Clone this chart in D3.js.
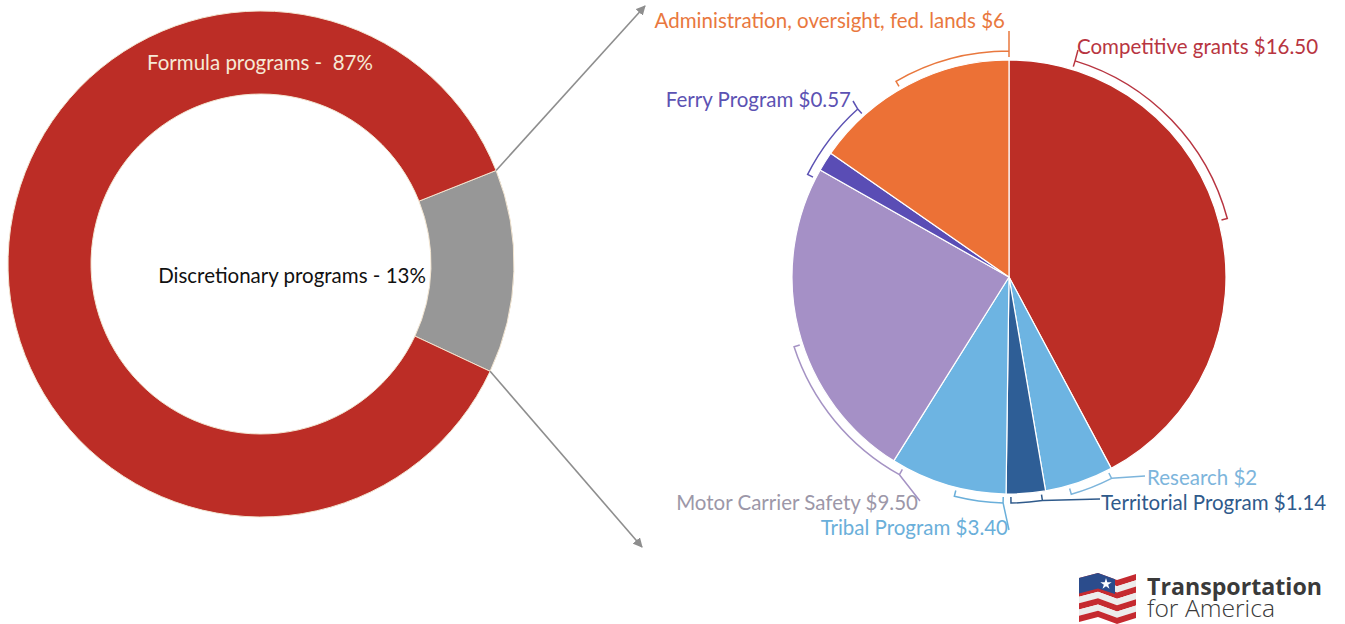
<!DOCTYPE html>
<html>
<head>
<meta charset="utf-8">
<script src="https://cdn.jsdelivr.net/npm/d3@7"></script>
<style>
    body { margin: 0; background: #fff; }
    svg { display: block; font-family: Lato, "Open Sans", sans-serif; }
</style>
</head>
<body>
<svg id="chart" width="1345" height="624"></svg>
<script>
// overall split of the program money
const overviewNames = ["Discretionary programs", "Formula programs"];
const overviewShares = [13, 87];

// breakdown of the discretionary part, clockwise from 12 o'clock
const programNames = ["Competitive grants", "Research", "Territorial Program", "Tribal Program",
    "Motor Carrier Safety", "Ferry Program", "Administration, oversight, fed. lands"];
const programAmounts = [16.50, 2, 1.14, 3.40, 9.50, 0.57, 6];
const programAmountLabels = ["$16.50", "$2", "$1.14", "$3.40", "$9.50", "$0.57", "$6"];

const overviewColors = { "Discretionary programs": "#979797", "Formula programs": "#BC2D26" };
const sliceColors = {
    "Competitive grants": "#BC2E26",
    "Research": "#6DB4E2",
    "Territorial Program": "#2E5E96",
    "Tribal Program": "#6DB4E2",
    "Motor Carrier Safety": "#A590C6",
    "Ferry Program": "#5A4DB5",
    "Administration, oversight, fed. lands": "#EC7136"
};
const labelColors = {
    "Competitive grants": "#B83541",
    "Research": "#7DB5DC",
    "Territorial Program": "#2F5A8B",
    "Tribal Program": "#6AAFDA",
    "Motor Carrier Safety": "#9C97A8",
    "Ferry Program": "#5C52B3",
    "Administration, oversight, fed. lands": "#E9783E"
};

// bracket spans (degrees) and where each callout text sits
const labelLayout = {
    "Competitive grants": { arc: [17, 75], from: 0, to: [1078, 50], x: 1077, y: 54, anchor: "start" },
    "Research": { arc: [153, 164], from: 0, to: [1145, 476], x: 1147, y: 485, anchor: "start" },
    "Territorial Program": { arc: [171.5, 179.5], from: 0, to: [1100, 499], x: 1101, y: 510, anchor: "start" },
    "Tribal Program": { arc: [181.5, 194], from: 0, to: [1009, 530], x: 1008, y: 535, anchor: "end" },
    "Motor Carrier Safety": { arc: [209, 252], from: 0, to: [920, 501], x: 918, y: 510, anchor: "end" },
    "Ferry Program": { arc: [297, 318], from: 1, to: [853, 101], x: 851, y: 107, anchor: "end" },
    "Administration, oversight, fed. lands": { arc: [330, 360], from: 1, to: [1009, 31], x: 1005, y: 28, anchor: "end" }
};

const svg = d3.select("#chart");
const rad = deg => deg * Math.PI / 180;
const labelSize = "20.5px";

// ---------- left donut ----------
const donut = { cx: 261, cy: 264, inner: 170, outer: 253, start: rad(68.3) };

const donutSlices = d3.pie()
    .sort(null)
    .startAngle(donut.start)
    .endAngle(donut.start + 2 * Math.PI)
    (overviewShares);

const donutArc = d3.arc().innerRadius(donut.inner).outerRadius(donut.outer);

const gDonut = svg.append("g").attr("transform", `translate(${donut.cx},${donut.cy})`);
gDonut.selectAll("path")
    .data(donutSlices)
    .join("path")
    .attr("d", donutArc)
    .attr("fill", (d, i) => overviewColors[overviewNames[i]])
    .attr("stroke", "#F3E6D2")
    .attr("stroke-width", 1);

svg.append("text")
    .attr("x", 260).attr("y", 70)
    .attr("text-anchor", "middle")
    .attr("fill", "#F6E9D6")
    .style("font-size", labelSize)
    .style("white-space", "pre")
    .text(overviewNames[1].replace(" programs", " programs -  ") + overviewShares[1] + "%");

svg.append("text")
    .attr("x", 292).attr("y", 283)
    .attr("text-anchor", "middle")
    .attr("fill", "#111")
    .style("font-size", labelSize)
    .text(overviewNames[0] + " - " + overviewShares[0] + "%");

// arrows from the grey slice to the breakdown
svg.append("defs").append("marker")
    .attr("id", "head")
    .attr("viewBox", "0 0 10 10")
    .attr("refX", 9).attr("refY", 5)
    .attr("markerWidth", 6).attr("markerHeight", 6)
    .attr("markerUnits", "strokeWidth")
    .attr("orient", "auto")
    .append("path")
    .attr("d", "M0,0 L10,5 L0,10 z")
    .attr("fill", "#8E8E8E");

const grey = donutSlices[0];
const arrowEnds = [[645, 6], [642, 547]];
[grey.startAngle, grey.endAngle].forEach((a, i) => {
    svg.append("line")
        .attr("x1", donut.cx + donut.outer * Math.sin(a))
        .attr("y1", donut.cy - donut.outer * Math.cos(a))
        .attr("x2", arrowEnds[i][0])
        .attr("y2", arrowEnds[i][1])
        .attr("stroke", "#8E8E8E")
        .attr("stroke-width", 1.6)
        .attr("marker-end", "url(#head)");
});

// ---------- right pie ----------
const pie = { cx: 1009, cy: 277, r: 217, bracket: 226 };

const pieSlices = d3.pie().sort(null)(programAmounts);
const pieArc = d3.arc().innerRadius(0).outerRadius(pie.r);

const gPie = svg.append("g").attr("transform", `translate(${pie.cx},${pie.cy})`);
gPie.selectAll("path")
    .data(pieSlices)
    .join("path")
    .attr("d", pieArc)
    .attr("fill", (d, i) => sliceColors[programNames[i]])
    .attr("stroke", "#fff")
    .attr("stroke-width", 1.2)
    .attr("stroke-linejoin", "round");

function polar(deg, r) {
    const a = rad(deg);
    return [pie.cx + r * Math.sin(a), pie.cy - r * Math.cos(a)];
}

programNames.forEach((name, i) => {
    const L = labelLayout[name];
    const color = labelColors[name];
    const [a0, a1] = L.arc;

    const p = d3.path();
    const t0 = polar(a0, pie.bracket - 6);
    const s0 = polar(a0, pie.bracket);
    const t1 = polar(a1, pie.bracket - 6);
    p.moveTo(t0[0], t0[1]);
    p.lineTo(s0[0], s0[1]);
    p.arc(pie.cx, pie.cy, pie.bracket, rad(a0 - 90), rad(a1 - 90));
    p.lineTo(t1[0], t1[1]);

    const end = polar(L.arc[L.from], pie.bracket);
    p.moveTo(end[0], end[1]);
    p.lineTo(L.to[0], L.to[1]);

    svg.append("path")
        .attr("d", p.toString())
        .attr("fill", "none")
        .attr("stroke", name === "Motor Carrier Safety" ? "#A593C4" : color)
        .attr("stroke-width", 1.5);

    svg.append("text")
        .attr("x", L.x).attr("y", L.y)
        .attr("text-anchor", L.anchor)
        .attr("fill", color)
        .style("font-size", labelSize)
        .text(name + " " + programAmountLabels[i]);
});

// ---------- logo ----------
const logo = svg.append("g");
const px = [1079, 1098, 1117, 1136];
const py = [578, 573, 580, 574];
const stripeH = 44 / 7;
d3.range(7).forEach(k => {
    const top = px.map((x, j) => [x, py[j] + k * stripeH]);
    const bot = px.map((x, j) => [x, py[j] + (k + 1) * stripeH]).reverse();
    logo.append("polygon")
        .attr("points", top.concat(bot).map(q => q.join(",")).join(" "))
        .attr("fill", k % 2 === 0 ? "#C52A30" : "#ECECEC");
});
logo.append("polygon")
    .attr("points", "1079,578 1098,573 1115,579.3 1115,594 1098,588.5 1079,593.5")
    .attr("fill", "#2B4C8C");
logo.append("path")
    .attr("d", d3.symbol(d3.symbolStar, 40)())
    .attr("transform", "translate(1106,584)")
    .attr("fill", "#fff");

logo.append("text")
    .attr("x", 1147).attr("y", 595)
    .attr("fill", "#3A3A3A")
    .style("font-family", "'Open Sans', sans-serif")
    .style("font-weight", 700)
    .style("font-size", "23px")
    .attr("textLength", 175)
    .attr("lengthAdjust", "spacingAndGlyphs")
    .text("Transportation");
logo.append("text")
    .attr("x", 1147).attr("y", 617)
    .attr("fill", "#3A3A3A")
    .style("font-family", "'Open Sans', sans-serif")
    .style("font-weight", 300)
    .style("font-size", "23px")
    .attr("textLength", 128)
    .attr("lengthAdjust", "spacingAndGlyphs")
    .text("for America");
</script>
</body>
</html>
